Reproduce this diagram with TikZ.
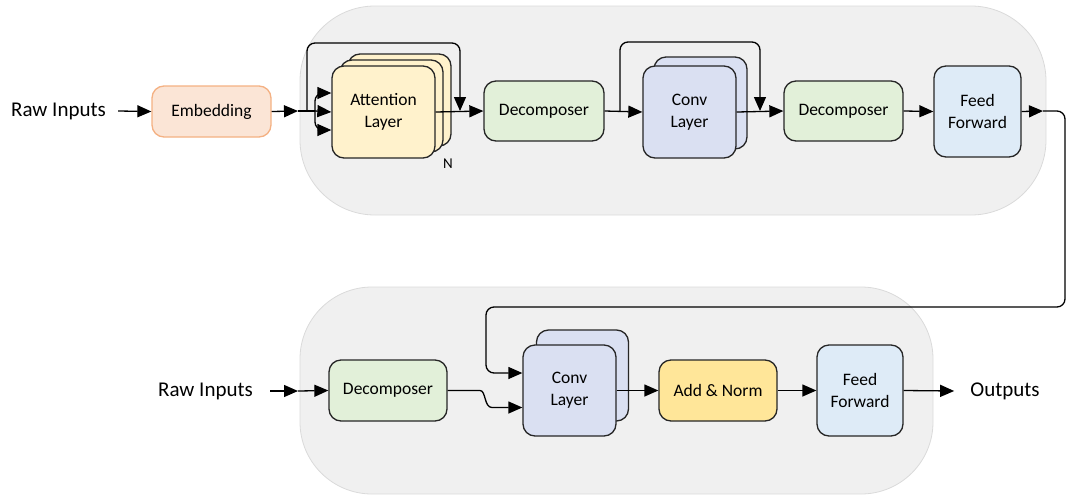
\documentclass[tikz,border=0pt]{standalone}
\usepackage{fontspec}
\setmainfont{Carlito}
\usetikzlibrary{arrows.meta,calc}
\definecolor{contfill}{HTML}{F0F0F0}
\definecolor{contdraw}{HTML}{DADADA}
\definecolor{embfill}{HTML}{FBE5D6}
\definecolor{embdraw}{HTML}{F4B183}
\definecolor{attfill}{HTML}{FFF2CC}
\definecolor{decfill}{HTML}{E2F0D9}
\definecolor{convfill}{HTML}{DAE0F2}
\definecolor{fffill}{HTML}{DEEBF7}
\definecolor{anfill}{HTML}{FFE699}
\definecolor{edge}{HTML}{262626}
\tikzset{
  container/.style={fill=contfill,draw=contdraw,line width=0.8pt},
  blk/.style={draw=edge,line width=1.3pt,rounded corners=12pt,align=center,
    inner sep=0pt,font=\fontsize{17.5}{22}\selectfont},
  embbox/.style={blk,fill=embfill,draw=embdraw},
  attbox/.style={blk,fill=attfill},
  decbox/.style={blk,fill=decfill},
  convbox/.style={blk,fill=convfill},
  ffbox/.style={blk,fill=fffill},
  anbox/.style={blk,fill=anfill},
  lbl/.style={font=\fontsize{21}{24}\selectfont,inner sep=0pt},
  conn/.style={line width=1.3pt,draw=black,rounded corners=8pt},
  arr/.style={conn,-{Triangle[length=14pt,width=12pt]}},
}
\begin{document}
\begin{tikzpicture}[x=1pt,y=-1pt]
\useasboundingbox (0,0) rectangle (1066,496);
% containers
\path[container,rounded corners=75pt] (300,6) rectangle (1046,215);
\path[container,rounded corners=72pt] (300,287) rectangle (933,494);

% top row
\node[lbl] (raw1) at (58.5,111) {Raw Inputs};
\node[embbox,minimum width=119pt,minimum height=51pt] (emb) at (211.5,111.5) {Embedding};
\node[attbox,minimum width=103pt,minimum height=92pt] (att3) at (399.5,100) {};
\node[attbox,minimum width=103pt,minimum height=92pt] (att2) at (391.5,106) {};
\node[attbox,minimum width=103pt,minimum height=92pt] (att) at (383.5,112) {Attention\\Layer};
\node[inner sep=0pt,font=\fontsize{15}{17}\selectfont] (nlab) at (448,164) {N};
\node[decbox,minimum width=120pt,minimum height=60pt] (dec1) at (544,111) {Decomposer};
\node[convbox,minimum width=93pt,minimum height=92pt] (conv1b) at (700.5,103) {};
\node[convbox,minimum width=93pt,minimum height=92pt] (conv1) at (689.5,112) {Conv\\Layer};
\node[decbox,minimum width=119pt,minimum height=60pt] (dec2) at (843.5,111) {Decomposer};
\node[ffbox,minimum width=87pt,minimum height=91pt] (ff1) at (977.5,111.5) {Feed\\Forward};

% bottom row
\node[lbl] (raw2) at (205.5,391) {Raw Inputs};
\node[decbox,minimum width=118pt,minimum height=61pt] (dec3) at (388,390.5) {Decomposer};
\node[convbox,minimum width=92pt,minimum height=91pt] (conv2b) at (582.5,375.5) {};
\node[convbox,minimum width=93pt,minimum height=91pt] (conv2) at (569.5,390.5) {Conv\\Layer};
\node[anbox,minimum width=118pt,minimum height=61pt] (an) at (718,390.5) {Add \& Norm};
\node[ffbox,minimum width=86pt,minimum height=91pt] (ff2) at (860,390.5) {Feed\\Forward};
\node[lbl] (out) at (1005,391) {Outputs};

% junction coordinates
\coordinate (j0) at (298,111);
\coordinate (jf) at (307,111);
\coordinate (jb) at (315,111);
\coordinate (m1) at (460,111);
\coordinate (jc) at (620,111);
\coordinate (m2) at (760,111);
\coordinate (jo) at (1043,111);
\coordinate (k0) at (298,391);

% top connectors
\draw[arr] (raw1.east) ++(12pt,0) -- (emb.west);
\draw[arr] (emb.east) -- (j0);
\draw[conn] (j0) -- (jb);
\draw[arr] (jb) -- (att.west);
\draw[arr] (jb) |- ($(att.west)+(0,19pt)$);
\draw[arr] (jb) |- ($(att.west)+(0,-18pt)$);
\draw[arr] (jf) |- (460,43) -- (m1);
\draw[arr] (att.east) -- (dec1.west);
\draw[arr] (dec1.east) -- (conv1.west);
\draw[arr] (jc) |- (760,42) -- (m2);
\draw[arr] (conv1.east) -- (dec2.west);
\draw[arr] (dec2.east) -- (ff1.west);
\draw[arr] (ff1.east) -- (jo);
\draw[arr] (jo) -- (1065,111) -- (1065,307) -- (486,307) -- (486,373) -- ($(conv2.west)+(0,17.5pt)$);

% bottom connectors
\draw[arr] (raw2.east) ++(17pt,0) -- (k0);
\draw[arr] (k0) -- (dec3.west);
\draw[arr,rounded corners=0pt] (dec3.east) -- (480,390.5) .. controls (486,390.5) and (484,407.5) .. (492,407.5) -- ($(conv2.west)+(0,-17pt)$);
\draw[arr] (conv2.east) -- (an.west);
\draw[arr] (an.east) -- (ff2.west);
\draw[arr] (ff2.east) -- ($(out.west)+(-16pt,0)$);
\end{tikzpicture}
\end{document}
